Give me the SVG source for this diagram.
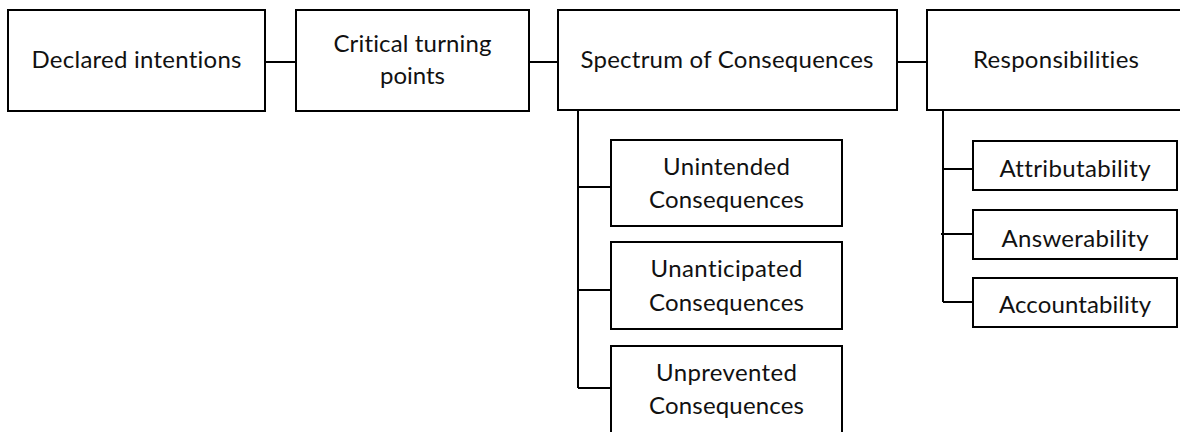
<svg xmlns="http://www.w3.org/2000/svg" width="1180" height="432" viewBox="0 0 1180 432">
<style>
.box{fill:#fff;stroke:#000;stroke-width:2}
.ln{fill:none;stroke:#000;stroke-width:2}
text{font-family:Lato,"Open Sans",sans-serif;font-size:24px;fill:#111;text-anchor:middle;font-variant-ligatures:none;font-feature-settings:"liga" 0,"clig" 0}
</style>
<rect width="1180" height="432" fill="#fff"/>
<g id="connectors">
<path class="ln" d="M265 62H296M529 62H558M897 62H927"/>
<path class="ln" d="M578 110V388M578 187H611M578 290H611M578 388H611"/>
<path class="ln" d="M943 110V302M943 169H973M941 234H973M943 302H973"/>
</g>
<g id="n1"><rect class="box" x="8" y="10" width="257" height="101"/><text x="136.5" y="68" textLength="210">Declared intentions</text></g>
<g id="n2"><rect class="box" x="296" y="10" width="233" height="101"/><text x="412.5" y="52" textLength="158">Critical turning</text><text x="412.5" y="84" textLength="65">points</text></g>
<g id="n3"><rect class="box" x="558" y="10" width="339" height="100"/><text x="727" y="68" textLength="293">Spectrum of Consequences</text></g>
<g id="n4"><rect class="box" x="927" y="10" width="262" height="100"/><text x="1056" y="68" textLength="166">Responsibilities</text></g>
<g id="n5"><rect class="box" x="611" y="140" width="231" height="86"/><text x="726.5" y="175" textLength="127">Unintended</text><text x="726.5" y="208" textLength="155">Consequences</text></g>
<g id="n6"><rect class="box" x="611" y="242" width="231" height="87"/><text x="726.5" y="277" textLength="152">Unanticipated</text><text x="726.5" y="311" textLength="155">Consequences</text></g>
<g id="n7"><rect class="box" x="611" y="346" width="231" height="100"/><text x="726.5" y="381" textLength="141">Unprevented</text><text x="726.5" y="414" textLength="155">Consequences</text></g>
<g id="n8"><rect class="box" x="973" y="141" width="204" height="49"/><text x="1075" y="177" textLength="151">Attributability</text></g>
<g id="n9"><rect class="box" x="973" y="210" width="204" height="49"/><text x="1075" y="247" textLength="147">Answerability</text></g>
<g id="n10"><rect class="box" x="973" y="278" width="204" height="49"/><text x="1075" y="313" textLength="152">Accountability</text></g>
</svg>
